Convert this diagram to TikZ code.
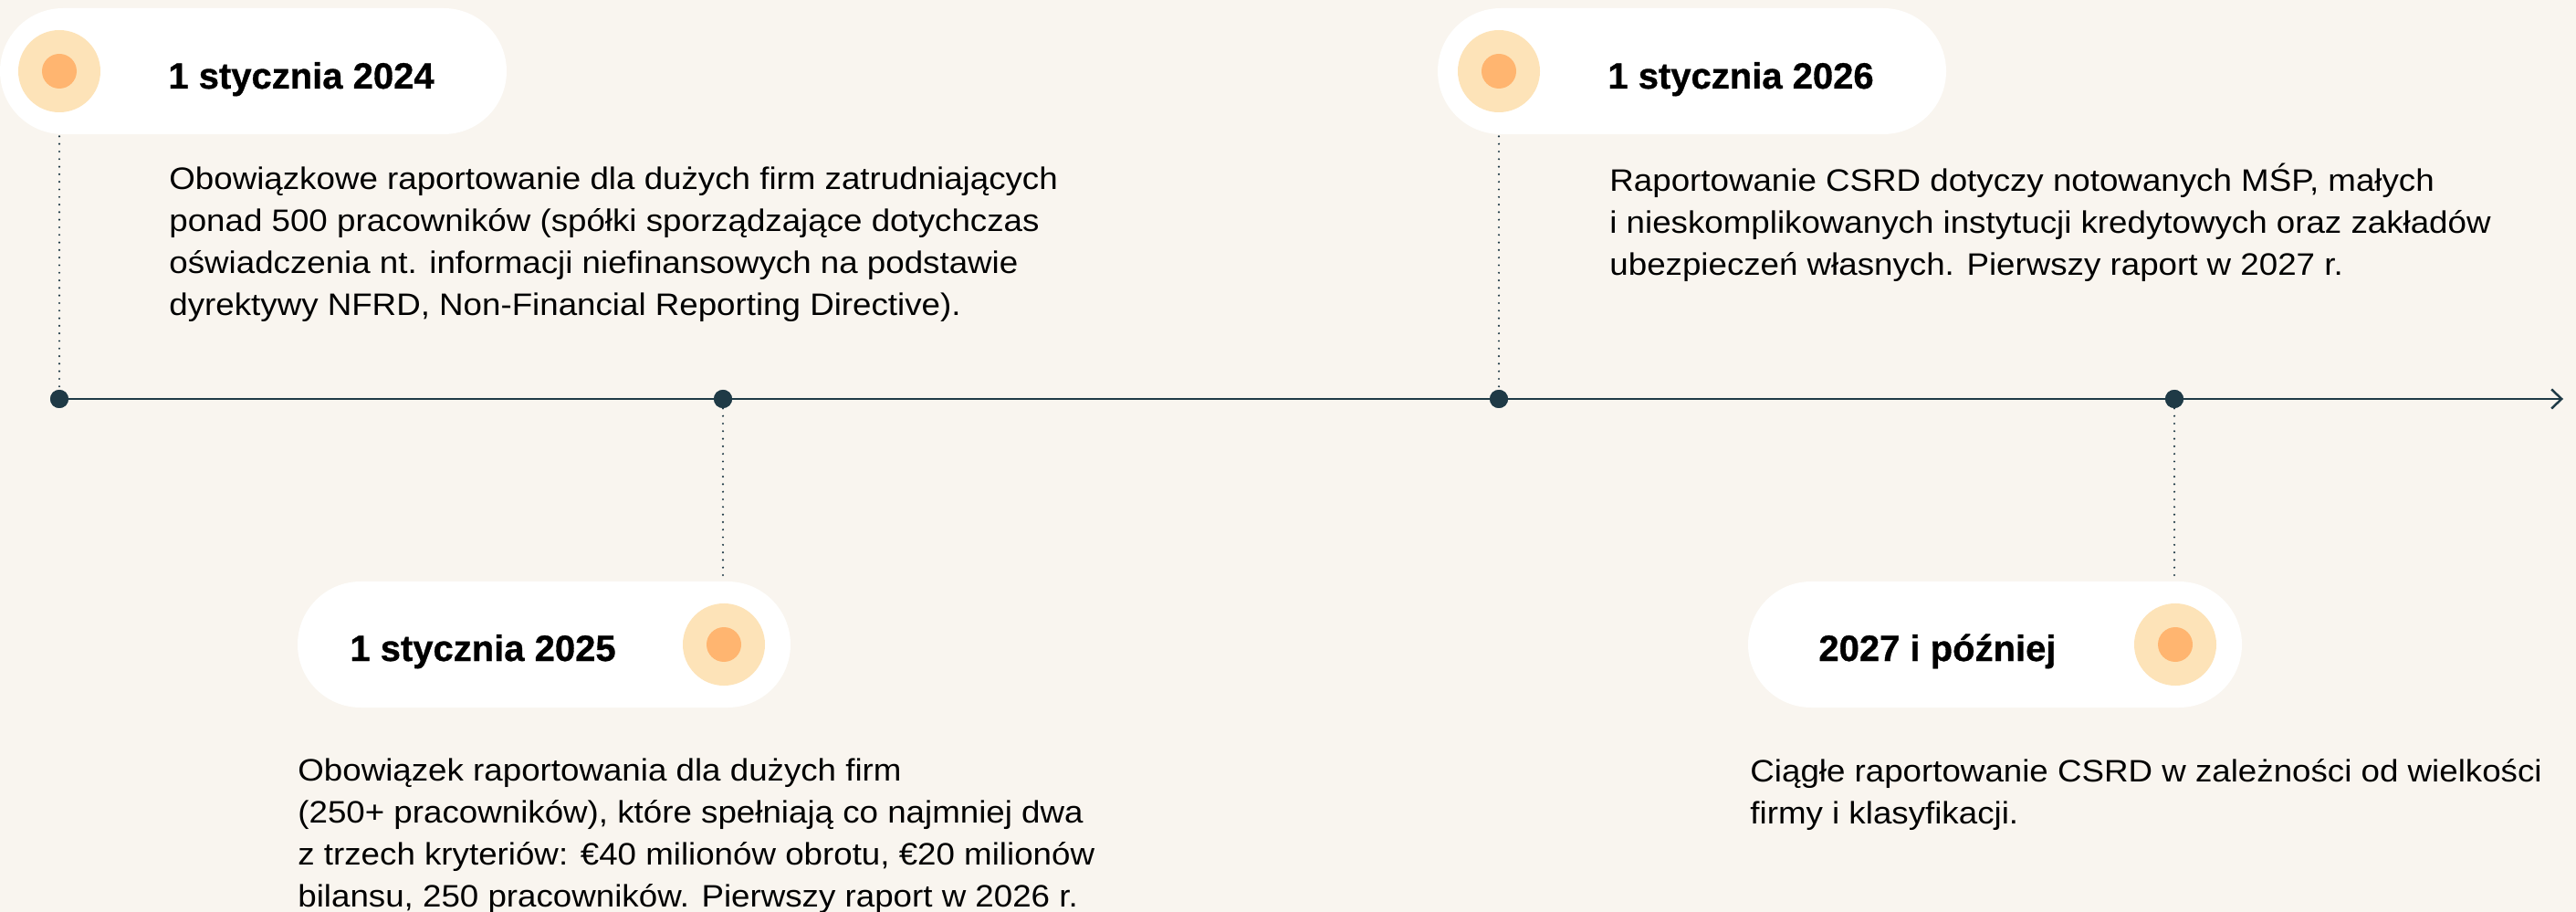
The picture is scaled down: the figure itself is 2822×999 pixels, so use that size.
\documentclass[tikz,border=0pt]{standalone}
\usepackage{fontspec}
\setmainfont{Liberation Sans}
\newfontfamily\bodyfont[FakeStretch=1.08]{Liberation Sans}
\newfontfamily\headfont[FakeBold=0.8]{Liberation Sans Bold}
\usetikzlibrary{arrows.meta}
\definecolor{bg}{HTML}{F9F5EF}
\definecolor{ring}{HTML}{FDE3B8}
\definecolor{core}{HTML}{FFB570}
\definecolor{tline}{HTML}{1F3A46}
\tikzset{
  pill/.style={fill=white, draw=none, rectangle, rounded corners=34.5pt, minimum width=#1, minimum height=69pt, inner sep=0pt},
  ringc/.style={circle, fill=ring, minimum size=45pt, inner sep=0pt},
  corec/.style={circle, fill=core, minimum size=19pt, inner sep=0pt},
  tdot/.style={circle, fill=tline, minimum size=10pt, inner sep=0pt},
  head/.style={anchor=base west, inner sep=0pt, font=\headfont\fontsize{20}{23}\selectfont, text=black},
  body/.style={anchor=base west, inner sep=0pt, align=left, font=\bodyfont\fontsize{17}{23}\selectfont, text=black},
  dotline/.style={draw=tline, line width=1.2pt, line cap=round, dash pattern=on 0pt off 4.15pt},
  tl/.style={draw=tline, line width=1.25pt, -{Straight Barb[length=5.5pt,width=10.5pt,line width=1.25pt]}}
}
\begin{document}
\begin{tikzpicture}[x=0.5pt,y=-0.5pt]
\useasboundingbox (0,0) rectangle (2822,999);
\fill[bg] (0,0) rectangle (2822,999);
% timeline dots
\node[tdot] (d1) at (65,437) {};
\node[tdot] (d2) at (792,437) {};
\node[tdot] (d3) at (1642,437) {};
\node[tdot] (d4) at (2382,437) {};
\coordinate (tend) at (2808,437);
% pills
\node[pill=277.5pt] (p1) at (277.5,78) {};
\node[pill=270pt] (p2) at (596,706) {};
\node[pill=278.5pt] (p3) at (1853.5,78) {};
\node[pill=270.5pt] (p4) at (2185.5,706) {};
% connectors
\draw[dotline] (d1 |- p1.south) ++(0,2) -- (d1.north);
\draw[dotline] (d2.south) -- (d2 |- p2.north);
\draw[dotline] (d3 |- p3.south) ++(0,2) -- (d3.north);
\draw[dotline] (d4.south) -- (d4 |- p4.north);
\draw[tl] (d1) -- (tend);
\node[tdot] at (d1) {};
\node[tdot] at (d2) {};
\node[tdot] at (d3) {};
\node[tdot] at (d4) {};
% markers
\node[ringc] (r1) at (65,78) {};   \node[corec] (c1) at (r1) {};
\node[ringc] (r2) at (793,706) {}; \node[corec] (c2) at (r2) {};
\node[ringc] (r3) at (1642,78) {}; \node[corec] (c3) at (r3) {};
\node[ringc] (r4) at (2383,706) {};\node[corec] (c4) at (r4) {};
% headings
\node[head] (h1) at (184,97) {1 stycznia 2024};
\node[head] (h2) at (383,724) {1 stycznia 2025};
\node[head] (h3) at (1761,97) {1 stycznia 2026};
\node[head] (h4) at (1992,724) {2027 i później};
% body texts (anchored at the baseline of the last line)
\node[body] (t1) at (185,346) {Obowiązkowe raportowanie dla dużych firm zatrudniających\\ponad 500 pracowników (spółki sporządzające dotychczas\\oświadczenia nt. informacji niefinansowych na podstawie\\dyrektywy NFRD, Non-Financial Reporting Directive).};
\node[body] (t2) at (326,993) {Obowiązek raportowania dla dużych firm\\(250+ pracowników), które spełniają co najmniej dwa\\z trzech kryteriów: €40 milionów obrotu, €20 milionów\\bilansu, 250 pracowników. Pierwszy raport w 2026 r.};
\node[body] (t3) at (1763,302) {Raportowanie CSRD dotyczy notowanych MŚP, małych\\i nieskomplikowanych instytucji kredytowych oraz zakładów\\ubezpieczeń własnych. Pierwszy raport w 2027 r.};
\node[body] (t4) at (1917,902) {Ciągłe raportowanie CSRD w zależności od wielkości\\firmy i klasyfikacji.};
\end{tikzpicture}
\end{document}
